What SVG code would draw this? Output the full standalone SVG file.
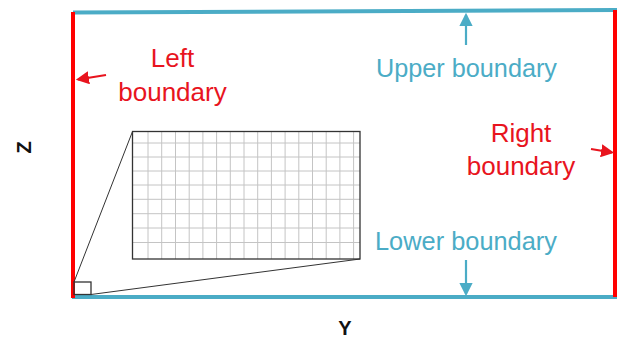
<svg xmlns="http://www.w3.org/2000/svg" width="621" height="340" viewBox="0 0 621 340">
<style>
.red{stroke:#ff0000;stroke-width:4;fill:none}
.teal{stroke:#4bacc6;stroke-width:4;fill:none}
.arr-red{stroke:#e8141e;stroke-width:2.2;fill:none}
.arr-teal{stroke:#4bacc6;stroke-width:2.2;fill:none}
.tred{font-family:"Liberation Sans",Arial,sans-serif;font-size:26px;fill:#e8141e}
.tteal{font-family:"Liberation Sans",Arial,sans-serif;font-size:26px;fill:#4bacc6}
.axis{font-family:"Liberation Sans",Arial,sans-serif;font-size:20px;font-weight:bold;fill:#111}
.grid{stroke:#c4c4c4;stroke-width:1}
.frame{stroke:#333;stroke-width:1.3;fill:none}
</style>
<defs>
<marker id="mr" markerWidth="6" markerHeight="6" refX="5" refY="3" orient="auto" markerUnits="strokeWidth"><path d="M0,0 L6,3 L0,6 z" fill="#e8141e"/></marker>
<marker id="mt" markerWidth="6" markerHeight="6" refX="5" refY="3" orient="auto" markerUnits="strokeWidth"><path d="M0,0 L6,3 L0,6 z" fill="#4bacc6"/></marker>
</defs>
<rect width="621" height="340" fill="#fff"/>
<g id="upper-boundary">
<line class="teal" x1="73" y1="12.5" x2="617" y2="10"/>
<text class="tteal" x="376" y="77" textLength="181" lengthAdjust="spacingAndGlyphs">Upper boundary</text>
</g>
<g id="lower-boundary">
<line class="teal" x1="72" y1="297" x2="617" y2="297"/>
<text class="tteal" x="375" y="250" textLength="182" lengthAdjust="spacingAndGlyphs">Lower boundary</text>
</g>
<g id="left-boundary">
<line class="red" x1="73" y1="12" x2="73" y2="298"/>
<text class="tred" x="172.5" y="67" text-anchor="middle">Left</text>
<text class="tred" x="172.5" y="101" text-anchor="middle">boundary</text>
</g>
<g id="right-boundary">
<line class="red" x1="615" y1="10" x2="615" y2="297"/>
<text class="tred" x="521" y="142" text-anchor="middle">Right</text>
<text class="tred" x="521" y="175" text-anchor="middle">boundary</text>
</g>
<g id="grid-zoom">
<g class="grid">
<line x1="148" y1="132" x2="148" y2="259"/><line x1="161.7" y1="132" x2="161.7" y2="259"/><line x1="175.5" y1="132" x2="175.5" y2="259"/><line x1="189.2" y1="132" x2="189.2" y2="259"/><line x1="202.9" y1="132" x2="202.9" y2="259"/><line x1="216.6" y1="132" x2="216.6" y2="259"/><line x1="230.3" y1="132" x2="230.3" y2="259"/><line x1="244" y1="132" x2="244" y2="259"/><line x1="257.7" y1="132" x2="257.7" y2="259"/><line x1="271.4" y1="132" x2="271.4" y2="259"/><line x1="285.1" y1="132" x2="285.1" y2="259"/><line x1="298.8" y1="132" x2="298.8" y2="259"/><line x1="312.5" y1="132" x2="312.5" y2="259"/><line x1="326.2" y1="132" x2="326.2" y2="259"/><line x1="339.9" y1="132" x2="339.9" y2="259"/><line x1="353.6" y1="132" x2="353.6" y2="259"/>
<line x1="133" y1="143" x2="360" y2="143"/><line x1="133" y1="157" x2="360" y2="157"/><line x1="133" y1="171" x2="360" y2="171"/><line x1="133" y1="185" x2="360" y2="185"/><line x1="133" y1="199.3" x2="360" y2="199.3"/><line x1="133" y1="213.7" x2="360" y2="213.7"/><line x1="133" y1="228" x2="360" y2="228"/><line x1="133" y1="242.5" x2="360" y2="242.5"/>
</g>
<rect class="frame" x="132.5" y="131.5" width="227.5" height="127.5"/>
<rect class="frame" x="74" y="282" width="17" height="12.5"/>
</g>
<g id="connectors">
<line stroke="#333" stroke-width="1" x1="132.5" y1="131.5" x2="74" y2="282"/>
<line stroke="#333" stroke-width="1" x1="360" y1="259" x2="91" y2="294.5"/>
<line class="arr-red" x1="106" y1="75" x2="78" y2="79.5" marker-end="url(#mr)"/>
<line class="arr-red" x1="591" y1="149" x2="612" y2="152.5" marker-end="url(#mr)"/>
<line class="arr-teal" x1="466" y1="45" x2="466" y2="15" marker-end="url(#mt)"/>
<line class="arr-teal" x1="466" y1="260" x2="466" y2="294" marker-end="url(#mt)"/>
</g>
<g id="axes">
<text class="axis" transform="translate(31,147.5) rotate(-90)" text-anchor="middle">Z</text>
<text class="axis" x="345" y="335" text-anchor="middle">Y</text>
</g>
</svg>
